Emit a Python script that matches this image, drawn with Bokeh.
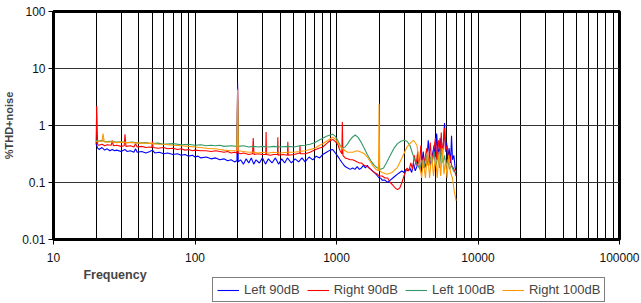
from bokeh.plotting import figure
from bokeh.layouts import column
from bokeh.models import FixedTicker, CustomJSTickFormatter, Legend, LegendItem, Label, Range1d
from bokeh.embed import file_html
from bokeh.resources import INLINE

# ---- data (frequency Hz, %THD+noise) ----
left90 = [(20, 0.48), (20.5, 0.40), (21, 0.38), (22, 0.41), (23, 0.37), (24, 0.39), (25, 0.36), (26, 0.38),
          (27, 0.36), (28, 0.37), (30, 0.35), (32, 0.38), (33, 0.35), (35, 0.36), (37, 0.34), (38, 0.39),
          (39, 0.34), (42, 0.35), (45, 0.33), (48, 0.35), (50, 0.37), (52, 0.33), (56, 0.34), (60, 0.32),
          (64, 0.33), (70, 0.31), (75, 0.32), (80, 0.30), (85, 0.31), (90, 0.29), (96, 0.30), (100, 0.28),
          (105, 0.29), (110, 0.27), (120, 0.28), (130, 0.26), (140, 0.27), (150, 0.25), (160, 0.26), (170, 0.24),
          (180, 0.25), (190, 0.23), (198, 0.24), (200, 5.6), (202, 0.23), (210, 0.25), (220, 0.21), (230, 0.26),
          (240, 0.22), (250, 0.27), (260, 0.21), (270, 0.25), (285, 0.22), (300, 0.27), (315, 0.21), (330, 0.26),
          (350, 0.22), (370, 0.27), (390, 0.21), (410, 0.26), (430, 0.22), (450, 0.27), (480, 0.22), (510, 0.26),
          (540, 0.23), (570, 0.27), (600, 0.23), (640, 0.28), (680, 0.25), (720, 0.29), (760, 0.27), (800, 0.31),
          (850, 0.34), (900, 0.37), (940, 0.38), (980, 0.33), (1020, 0.29), (1060, 0.25), (1100, 0.22), (1150, 0.19),
          (1200, 0.18), (1250, 0.17), (1300, 0.18), (1350, 0.17), (1400, 0.19), (1450, 0.17), (1500, 0.18),
          (1550, 0.20), (1600, 0.18), (1650, 0.20), (1700, 0.18), (1750, 0.17), (1800, 0.16), (1850, 0.15),
          (1900, 0.14), (1950, 0.13), (2000, 0.12), (2050, 0.12), (2100, 0.11), (2200, 0.11), (2300, 0.10),
          (2400, 0.11), (2500, 0.12), (2600, 0.13), (2700, 0.14), (2800, 0.15), (2900, 0.16), (3000, 0.15),
          (3100, 0.17), (3200, 0.16), (3300, 0.18), (3400, 0.15), (3500, 0.22), (3600, 0.16), (3700, 0.19),
          (3800, 0.30), (3900, 0.17), (4000, 0.21), (4100, 0.35), (4200, 0.18), (4350, 0.24), (4450, 0.55),
          (4600, 0.20), (4750, 0.30), (4900, 0.45), (5000, 0.22), (5100, 0.72), (5250, 0.28), (5400, 0.60),
          (5550, 0.30), (5700, 0.50), (5800, 1.10), (5900, 0.35), (6000, 0.50), (6100, 0.25), (6250, 0.40),
          (6400, 0.22), (6500, 0.66), (6600, 0.25), (6750, 0.30), (6900, 0.18), (7000, 0.16)]

right90 = [(20, 0.47), (20.2, 2.2), (20.5, 0.46), (21, 0.45), (22, 0.47), (23, 0.44), (24, 0.46), (25.6, 0.45),
           (26, 0.55), (26.5, 0.44), (28, 0.45), (30, 0.43), (31.6, 0.44), (32, 0.70), (32.5, 0.43), (35, 0.44),
           (37, 0.42), (38, 0.48), (39, 0.42), (42, 0.43), (45, 0.41), (48, 0.42), (49.5, 0.41), (50, 0.53),
           (50.5, 0.41), (55, 0.40), (60, 0.41), (64, 0.39), (70, 0.40), (75, 0.38), (80, 0.39), (85, 0.37),
           (90, 0.38), (96, 0.36), (100, 0.37), (110, 0.36), (120, 0.36), (130, 0.35), (140, 0.36), (150, 0.35),
           (160, 0.34), (170, 0.35), (180, 0.33), (190, 0.34), (198, 0.33), (200, 4.5), (202, 0.33), (210, 0.32),
           (220, 0.33), (240, 0.31), (255, 0.32), (258, 0.60), (261, 0.31), (280, 0.32), (300, 0.31), (316, 0.31),
           (318, 0.77), (320, 0.31), (340, 0.30), (360, 0.31), (383, 0.31), (385, 0.62), (387, 0.30), (420, 0.31),
           (450, 0.30), (453, 0.52), (456, 0.30), (500, 0.31), (550, 0.33), (552, 0.45), (555, 0.32), (600, 0.32),
           (650, 0.34), (700, 0.37), (750, 0.40), (800, 0.42), (850, 0.48), (900, 0.54), (940, 0.57), (980, 0.52),
           (1020, 0.47), (1060, 0.36), (1090, 0.32), (1100, 1.15), (1110, 0.30), (1150, 0.27), (1200, 0.26),
           (1250, 0.25), (1300, 0.25), (1350, 0.24), (1400, 0.23), (1450, 0.22), (1500, 0.22), (1570, 0.20),
           (1650, 0.19), (1700, 0.18), (1790, 0.16), (1850, 0.15), (1950, 0.14), (2000, 0.13), (2100, 0.13),
           (2200, 0.12), (2300, 0.12), (2400, 0.10), (2500, 0.09), (2600, 0.08), (2700, 0.075), (2800, 0.08),
           (2900, 0.10), (3000, 0.13), (3150, 0.18), (3250, 0.16), (3350, 0.22), (3450, 0.17), (3550, 0.30),
           (3650, 0.20), (3750, 0.35), (3850, 0.18), (3950, 0.45), (4050, 0.20), (4200, 0.25), (4350, 0.40),
           (4450, 0.20), (4600, 0.50), (4700, 0.22), (4850, 0.35), (5000, 0.60), (5100, 0.25), (5250, 0.55),
           (5400, 0.30), (5500, 0.75), (5600, 0.28), (5800, 0.90), (5900, 0.35), (6050, 0.45), (6200, 0.25),
           (6350, 0.30), (6500, 0.20), (6700, 0.18), (6900, 0.15), (7000, 0.13)]

left100 = [(20, 0.55), (21, 0.53), (22, 0.55), (23, 0.52), (25, 0.53), (28, 0.51), (30, 0.52), (33, 0.50),
           (36, 0.51), (40, 0.49), (45, 0.50), (50, 0.48), (55, 0.49), (60, 0.47), (70, 0.48), (80, 0.46),
           (90, 0.47), (100, 0.45), (110, 0.46), (120, 0.44), (130, 0.45), (140, 0.44), (150, 0.45), (160, 0.43),
           (180, 0.44), (198, 0.43), (200, 3.0), (202, 0.43), (220, 0.44), (240, 0.42), (260, 0.43), (280, 0.42),
           (300, 0.43), (330, 0.42), (360, 0.43), (400, 0.42), (450, 0.43), (500, 0.42), (550, 0.44), (600, 0.45),
           (650, 0.47), (700, 0.50), (750, 0.55), (800, 0.60), (850, 0.65), (900, 0.68), (940, 0.70), (980, 0.65),
           (1020, 0.55), (1060, 0.45), (1100, 0.40), (1150, 0.42), (1200, 0.48), (1250, 0.56), (1300, 0.63),
           (1357, 0.68), (1420, 0.62), (1500, 0.50), (1570, 0.40), (1650, 0.31), (1750, 0.24), (1850, 0.20),
           (1950, 0.18), (2050, 0.17), (2150, 0.18), (2250, 0.22), (2400, 0.30), (2550, 0.40), (2700, 0.48),
           (2850, 0.53), (3000, 0.55), (3150, 0.53), (3300, 0.45), (3450, 0.32), (3600, 0.24), (3750, 0.20),
           (3900, 0.17), (4000, 0.25), (4150, 0.18), (4300, 0.30), (4450, 0.20), (4600, 0.28), (4750, 0.22),
           (4900, 0.35), (5050, 0.20), (5200, 0.30), (5350, 0.18), (5500, 0.40), (5650, 0.22), (5800, 0.30),
           (5950, 0.19), (6100, 0.25), (6300, 0.17), (6500, 0.20), (6700, 0.16), (6900, 0.15), (7000, 0.15)]

right100 = [(20, 0.52), (21, 0.54), (22, 0.52), (22.4, 0.72), (22.8, 0.52), (24, 0.51), (26, 0.52), (28, 0.50),
            (30, 0.51), (33, 0.50), (36, 0.50), (40, 0.49), (45, 0.49), (50, 0.48), (55, 0.47), (60, 0.47),
            (70, 0.45), (80, 0.44), (90, 0.43), (100, 0.42), (110, 0.41), (120, 0.40), (130, 0.39), (140, 0.39),
            (150, 0.38), (160, 0.37), (180, 0.36), (198, 0.36), (200, 4.2), (202, 0.36), (220, 0.35), (240, 0.34),
            (260, 0.34), (280, 0.33), (300, 0.34), (330, 0.33), (360, 0.34), (400, 0.33), (450, 0.34), (500, 0.34),
            (550, 0.35), (600, 0.36), (650, 0.38), (700, 0.40), (750, 0.44), (800, 0.48), (850, 0.53), (900, 0.58),
            (940, 0.62), (980, 0.58), (1020, 0.50), (1067, 0.42), (1150, 0.36), (1200, 0.34), (1300, 0.34),
            (1400, 0.36), (1500, 0.34), (1570, 0.32), (1650, 0.28), (1700, 0.25), (1800, 0.20), (1900, 0.17),
            (1980, 0.16), (2000, 2.4), (2020, 0.16), (2100, 0.15), (2280, 0.14), (2470, 0.15), (2680, 0.18),
            (2900, 0.27), (3150, 0.42), (3350, 0.50), (3500, 0.55), (3700, 0.45), (3850, 0.22), (4000, 0.12),
            (4100, 0.25), (4250, 0.12), (4400, 0.35), (4550, 0.12), (4700, 0.30), (4850, 0.13), (5000, 0.28),
            (5150, 0.12), (5300, 0.35), (5450, 0.13), (5600, 0.40), (5750, 0.14), (5900, 0.25), (6050, 0.12),
            (6200, 0.30), (6400, 0.15), (6600, 0.12), (6800, 0.07), (7000, 0.048)]

series_names = ["Left 90dB", "Right 90dB", "Left 100dB", "Right 100dB"]
series_colors = ["#0000ff", "#ff0000", "#339966", "#ff9900"]
series_data = [left90, right90, left100, right100]

x_ticks = [10, 100, 1000, 10000, 100000]
x_minor = [m * d for d in [10, 100, 1000, 10000] for m in range(2, 10)]
y_ticks = [0.01, 0.1, 1, 10, 100]

FONT = "Liberation Sans"

# ---------------- main chart ----------------
p = figure(width=641, height=267, x_axis_type="log", y_axis_type="log",
           x_range=Range1d(10, 100000), y_range=Range1d(0.01, 100),
           output_backend="svg", toolbar_location=None,
           min_border_left=49, min_border_right=22, min_border_top=11, min_border_bottom=28)
p.background_fill_color = "white"
p.border_fill_color = "white"
p.outline_line_color = "black"
p.outline_line_width = 3

fmt = CustomJSTickFormatter(code="return String(tick);")

p.xaxis.ticker = FixedTicker(ticks=x_ticks, minor_ticks=x_minor)
p.yaxis.ticker = FixedTicker(ticks=y_ticks)
for ax in (p.xaxis[0], p.yaxis[0]):
    ax.formatter = fmt
    ax.axis_line_color = "black"
    ax.axis_line_width = 2
    ax.major_tick_line_color = "black"
    ax.major_tick_line_width = 1
    ax.major_tick_in = 0
    ax.major_tick_out = 5
    ax.minor_tick_in = 0
    ax.minor_tick_out = 0
    ax.major_label_text_font = FONT
    ax.major_label_text_font_size = "12px"
    ax.major_label_text_color = "#111111"
p.xaxis.major_label_standoff = 8
p.yaxis.major_label_standoff = 3
p.yaxis.axis_label = "%THD+noise"
p.yaxis.axis_label_text_font = FONT
p.yaxis.axis_label_text_font_style = "bold"
p.yaxis.axis_label_text_font_size = "11px"
p.yaxis.axis_label_standoff = 4

p.xgrid.grid_line_color = "black"
p.xgrid.grid_line_width = 1
p.xgrid.minor_grid_line_color = "black"
p.xgrid.minor_grid_line_width = 1
p.ygrid.grid_line_color = "#333333"
p.ygrid.grid_line_width = 1

for name, col, data in zip(series_names, series_colors, series_data):
    fx = [d[0] for d in data]
    fy = [d[1] for d in data]
    p.line(fx, fy, line_color=col, line_width=1.1)

# ---------------- strip below: axis title + legend ----------------
# shares the frequency range; its vertical range lies far below zero, so the
# (positive) series drawn here only serve as legend sources and stay out of view.
p2 = figure(width=641, height=36, x_axis_type="log", x_range=p.x_range, y_range=Range1d(-536, -500),
            output_backend="svg", toolbar_location=None,
            min_border_left=49, min_border_right=22, min_border_top=0, min_border_bottom=0,
            x_axis_location=None, y_axis_location=None)
p2.outline_line_color = None
p2.xgrid.visible = False
p2.ygrid.visible = False
p2.background_fill_color = "white"
p2.border_fill_color = "white"

items = []
for name, col, data in zip(series_names, series_colors, series_data):
    fx = [d[0] for d in data]
    fy = [d[1] for d in data]
    r = p2.line(fx, fy, line_color=col, line_width=1.1)
    items.append(LegendItem(label=name, renderers=[r]))

legend = Legend(items=items, orientation="horizontal", location=(159, 1),
                label_text_font=FONT, label_text_font_size="13px",
                glyph_width=22, glyph_height=14, label_standoff=5, spacing=7,
                padding=4, margin=0, border_line_color="black", border_line_width=1,
                background_fill_color="white", background_fill_alpha=1.0)
p2.add_layout(legend)

p2.add_layout(Label(x=27.2, y=-507.5, text="Frequency",
                    text_font=FONT, text_font_style="bold",
                    text_font_size="12.5px", text_align="center", text_baseline="middle"))

layout = column(p, p2, spacing=0)
open("out.html", "w").write(file_html(layout, INLINE))
